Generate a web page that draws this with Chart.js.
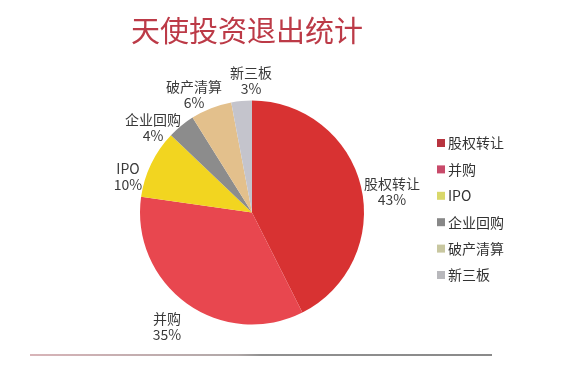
<!DOCTYPE html>
<html><head><meta charset="utf-8">
<script src="https://cdn.jsdelivr.net/npm/chart.js@4/dist/chart.umd.min.js"></script>
<style>html,body{margin:0;padding:0;background:#fff}#w{position:relative;width:563px;height:366px}</style>
</head><body><div id="w"><canvas id="c" width="563" height="366"></canvas></div>
<script>
const title = "天使投资退出统计";
const categories = ["股权转让", "并购", "IPO", "企业回购", "破产清算", "新三板"];
const shares = [43, 35, 10, 4, 6, 3];
const colors = ["#d83232", "#e8474f", "#f2d520", "#8c8c8c", "#e3c08c", "#c4c4cc"];
const legendColors = ["#b8343f", "#c84a6a", "#d9d86a", "#888888", "#c8c7a0", "#b8b8bc"];
const F = '"Noto Sans CJK SC","Noto Sans",sans-serif';
const labelPos = [[392,184],[167,319],[128,169],[153,120],[194,87],[251,73]];

const deco = {
  id: 'deco',
  afterDraw(chart) {
    const ctx = chart.ctx;
    ctx.save();
    ctx.fillStyle = '#bc3a47';
    ctx.font = '29px ' + F;
    ctx.textAlign = 'left'; ctx.textBaseline = 'middle';
    ctx.fillText(title, 131, 31);
    const meta = chart.getDatasetMeta(0);
    ctx.fillStyle = '#3a3a3a';
    ctx.font = '14px ' + F;
    ctx.textAlign = 'center';
    meta.data.forEach((arc, i) => {
      const p = labelPos[i];
      ctx.fillText(categories[i], p[0], p[1]);
      ctx.fillText(shares[i] + '%', p[0], p[1] + 16);
    });
    ctx.textAlign = 'left';
    ctx.font = '14px ' + F;
    categories.forEach((c, i) => {
      const y = 143 + i * 26.4;
      ctx.fillStyle = legendColors[i];
      ctx.fillRect(437, y - 4, 8, 8);
      ctx.fillStyle = '#333';
      ctx.fillText(c, 448, y);
    });
    const g = ctx.createLinearGradient(30, 0, 492, 0);
    g.addColorStop(0, '#d8b4b8'); g.addColorStop(0.45, '#b0a8a8'); g.addColorStop(0.5, '#909090'); g.addColorStop(1, '#8a8a8a');
    ctx.fillStyle = g;
    ctx.fillRect(30, 354, 462, 2);
    ctx.restore();
  }
};

new Chart(document.getElementById('c'), {
  type: 'pie',
  data: { labels: categories, datasets: [{ data: shares, backgroundColor: colors, borderWidth: 0 }] },
  options: {
    responsive: false, animation: false,
    layout: { padding: { left: 140, right: 199, top: 100, bottom: 41 } },
    plugins: { legend: { display: false }, tooltip: { enabled: false } }
  },
  plugins: [deco]
});
</script></body></html>
